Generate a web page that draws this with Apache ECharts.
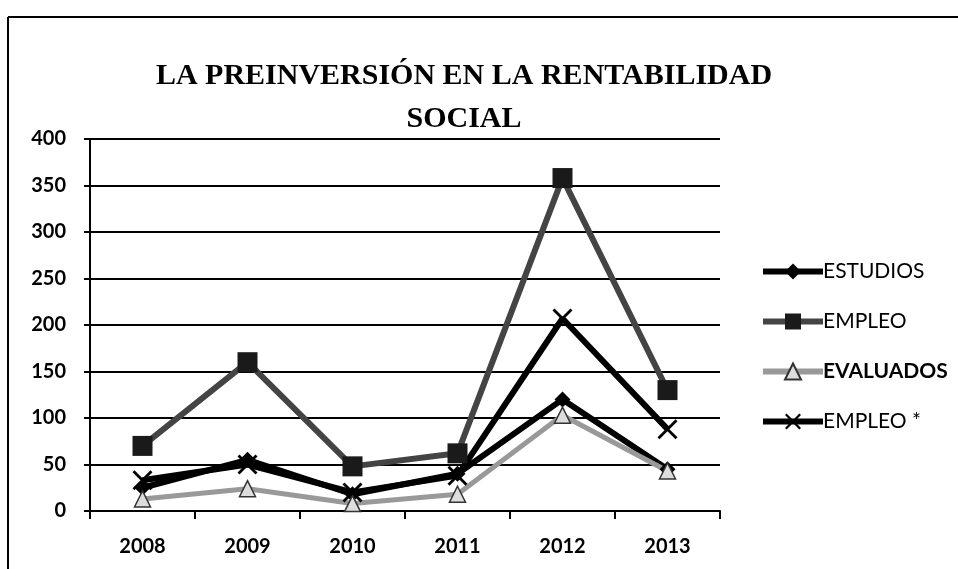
<!DOCTYPE html>
<html>
<head>
<meta charset="utf-8">
<script src="https://cdn.jsdelivr.net/npm/echarts@6/dist/echarts.min.js"></script>
<style>
  html, body { margin: 0; padding: 0; background: #fff; }
  #chart { width: 958px; height: 569px; }
</style>
</head>
<body>
<div id="chart"></div>
<script>
const years = ['2008', '2009', '2010', '2011', '2012', '2013']
const estudios = [25, 55, 18, 40, 120, 45]
const empleo = [70, 160, 48, 62, 358, 130]
const evaluados = [13, 24, 8, 18, 103, 43]
const empleoStar = [33, 50, 20, 38, 207, 88]

const xMark = 'path://M0,1L1,0L5,4L9,0L10,1L6,5L10,9L9,10L5,6L1,10L0,9L4,5Z'

const chart = echarts.init(document.getElementById('chart'))

const option = {
  animation: false,
  backgroundColor: '#fff',
  title: {
    text: 'LA PREINVERSIÓN EN LA RENTABILIDAD\nSOCIAL',
    left: 459,
    textAlign: 'center',
    top: 50,
    textStyle: {
      fontFamily: 'Liberation Serif',
      fontWeight: 'bold',
      fontSize: 30,
      lineHeight: 43,
      color: '#000'
    }
  },
  graphic: [
    { type: 'line', shape: { x1: 8, y1: 17, x2: 958, y2: 17 }, style: { stroke: '#000', lineWidth: 2 } },
    { type: 'line', shape: { x1: 8, y1: 17, x2: 8, y2: 569 }, style: { stroke: '#000', lineWidth: 2 } }
  ],
  legend: {
    orient: 'vertical',
    left: 755,
    top: 256,
    itemWidth: 60,
    itemHeight: 20,
    itemGap: 29,
    lineStyle: { width: 6 },
    textStyle: {
      fontFamily: 'Lato',
      fontSize: 21,
      color: '#000',
      padding: [0, 0, 0, -5],
      rich: { b: { fontFamily: 'Lato', fontSize: 21, fontWeight: 'bold', color: '#000' } }
    },
    formatter: name => name === 'EVALUADOS' ? '{b|' + name + '}' : name,
    data: ['ESTUDIOS', 'EMPLEO', 'EVALUADOS', 'EMPLEO *']
  },
  grid: {
    left: 90,
    right: 238,
    top: 139,
    bottom: 58
  },
  xAxis: {
    type: 'category',
    boundaryGap: true,
    data: years,
    axisLine: { lineStyle: { color: '#000', width: 2 } },
    axisTick: { show: true, length: 8, lineStyle: { color: '#000', width: 2 } },
    axisLabel: {
      color: '#000',
      fontFamily: 'Lato',
      fontWeight: 'bold',
      fontSize: 20,
      margin: 26
    }
  },
  yAxis: {
    type: 'value',
    min: 0,
    max: 400,
    interval: 50,
    axisLine: { show: true, lineStyle: { color: '#000', width: 2 } },
    axisTick: { show: true, length: 6, lineStyle: { color: '#000', width: 2 } },
    axisLabel: {
      color: '#000',
      fontFamily: 'Lato',
      fontWeight: 'bold',
      fontSize: 20,
      margin: 24
    },
    splitLine: { lineStyle: { color: '#000', width: 2 } }
  },
  series: [
    {
      name: 'ESTUDIOS',
      type: 'line',
      data: estudios,
      symbol: 'diamond',
      symbolSize: 16,
      lineStyle: { color: '#000', width: 6 },
      itemStyle: { color: '#000' }
    },
    {
      name: 'EMPLEO',
      type: 'line',
      data: empleo,
      symbol: 'rect',
      symbolSize: 20,
      lineStyle: { color: '#444', width: 6 },
      itemStyle: { color: '#1a1a1a' }
    },
    {
      name: 'EVALUADOS',
      type: 'line',
      data: evaluados,
      symbol: 'triangle',
      symbolSize: 16,
      lineStyle: { color: '#999', width: 5 },
      itemStyle: { color: '#ddd', borderColor: '#333', borderWidth: 1.5 }
    },
    {
      name: 'EMPLEO *',
      type: 'line',
      data: empleoStar,
      symbol: xMark,
      symbolSize: 20,
      lineStyle: { color: '#000', width: 6 },
      itemStyle: { color: '#000' }
    }
  ]
}

chart.setOption(option)
</script>
</body>
</html>
